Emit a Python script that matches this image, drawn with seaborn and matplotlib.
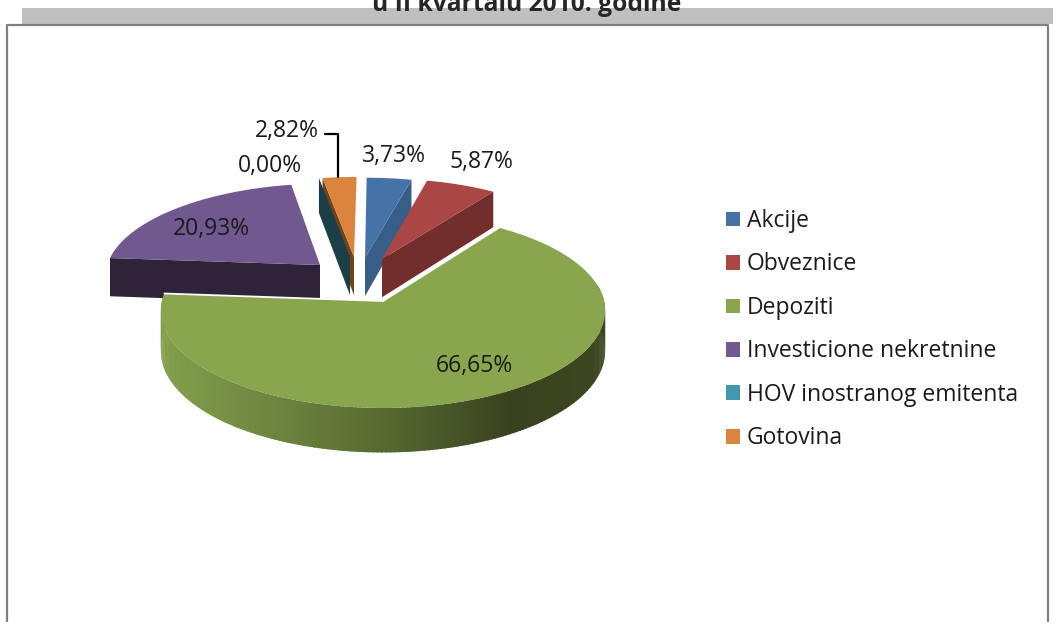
import numpy as np
import seaborn as sns
import matplotlib
matplotlib.use("Agg")
import matplotlib.pyplot as plt
from matplotlib.patches import Patch

# data
categories = ["Akcije", "Obveznice", "Depoziti", "Investicione nekretnine",
              "HOV inostranog emitenta", "Gotovina"]
values = [3.73, 5.87, 66.65, 20.93, 0.00, 2.82]
value_labels = ["3,73%", "5,87%", "66,65%", "20,93%", "0,00%", "2,82%"]
title_text = "u II kvartalu 2010. godine"

# styles
top_colors = ["#4572A7", "#AA4643", "#89A54E", "#71588F", "#4198AF", "#DB843D"]
side_colors = ["#375E87", "#722E2D", "#89A54E", "#2E2339", "#1B3F49", "#70431A"]
side_stops = ["#82A04C", "#6E8540", "#566A30", "#38421E", "#3C4720"]

# layout (pixels of the 1053x622 picture)
W, H = 1053, 622
CX, CY, RX, RY, K, DEPTH = 384, 301, 221, 96.3, 0.10, 40
apex_px = [(365, 258), (382, 259), (383, 301), (320, 265), (350, 257), (354, 257)]
label_px = [(394, 156), (481, 162), (474, 366), (211, 229), (270, 166), (287, 131)]

sns.set_theme(style="white")
plt.rcParams["font.family"] = ["Open Sans", "DejaVu Sans"]

fig = plt.figure(figsize=(W / 100, H / 100), dpi=100)
ax = fig.add_axes([0, 0, 1, 1])
ax.set_xlim(0, W)
ax.set_ylim(H, 0)
ax.axis("off")


def world_offset(px, py):
    dy = CY - py
    b = dy / (RY - K * dy)
    a = (px - CX) * (1 + K * b) / RX
    return a, b


def project(a, b, low=False):
    s = 1 + K * b
    x = CX + RX * a / s
    y = CY - RY * b / s
    if low:
        y = y + DEPTH / s
    return x, y


def arc(off, t0, t1, low=False, n=120):
    t = np.radians(np.linspace(t0, t1, n))
    return project(off[0] + np.sin(t), off[1] + np.cos(t), low)


def radial_face(off, t, color, z):
    tr = np.radians(t)
    a = np.array([off[0], off[0] + np.sin(tr)])
    b = np.array([off[1], off[1] + np.cos(tr)])
    x0, y0 = project(a, b)
    x1, y1 = project(a, b, True)
    ax.fill(np.r_[x0, x1[::-1]], np.r_[y0, y1[::-1]], color=color, lw=0, zorder=z)


edges = np.r_[0, np.cumsum(values)] * 3.6
offsets = [world_offset(*p) for p in apex_px]

# purple, orange, teal, blue, red, green: back to front
radial_face(offsets[3], edges[3], side_colors[3], 2)
radial_face(offsets[5], edges[5], side_colors[5], 3)
radial_face(offsets[4], edges[4], side_colors[4], 5)
radial_face(offsets[0], edges[1], side_colors[0], 3)
radial_face(offsets[1], edges[2], side_colors[1], 3)

for i in [0, 1, 3, 5]:
    x, y = arc(offsets[i], edges[i], edges[i + 1])
    ax0, ay0 = project(offsets[i][0], offsets[i][1])
    ax.fill(np.r_[ax0, x], np.r_[ay0, y], color=top_colors[i], lw=0, zorder=4)

# green outer wall, shaded from left to right
rgb = np.array([matplotlib.colors.to_rgb(c) for c in side_stops])
stop_x = np.array([0.0, 0.25, 0.5, 0.78, 1.0])
ts = np.arange(80, edges[3] + 1, 1.0)
off = offsets[2]
for t0, t1 in zip(ts[:-1], ts[1:]):
    x0, y0 = arc(off, t0, t1 + 0.5, n=3)
    x1, y1 = arc(off, t0, t1 + 0.5, low=True, n=3)
    f = (x0.mean() - 161) / (607 - 161)
    col = [np.interp(f, stop_x, rgb[:, c]) for c in range(3)]
    ax.fill(np.r_[x0, x1[::-1]], np.r_[y0, y1[::-1]], color=col, lw=0, zorder=6)

x, y = arc(off, edges[2], edges[3], n=300)
a0, b0 = project(off[0], off[1])
ax.fill(np.r_[a0, x], np.r_[b0, y], facecolor=top_colors[2], lw=0, zorder=7)
ax.plot([x[0], a0, x[-1]], [y[0], b0, y[-1]], color="white", lw=1.3, zorder=7,
        solid_joinstyle="miter")

# data labels
for (lx, ly), txt in zip(label_px, value_labels):
    ax.text(lx, ly, txt, ha="center", va="center", fontsize=16.5, color="#1a1a1a", zorder=9)
ax.plot([325, 338, 338], [134, 134, 177], color="black", lw=1.6, zorder=9)

# frame, band and clipped title
ax.fill_between([22, W], 8, 24, color="#BFBFBF", lw=0, zorder=0)
ax.plot([7, 7, 1048, 1048], [H, 25, 25, H], color="#808080", lw=1.6, zorder=1)
ax.text(527, 11, title_text, ha="center", va="baseline", fontsize=17.7,
        fontweight="bold", color="#262626", family="Open Sans", zorder=2)

# legend
handles = [Patch(facecolor=c, edgecolor="none") for c in top_colors]
leg = ax.legend(handles, categories, loc="upper left", frameon=False,
                bbox_to_anchor=(726 / W, 1 - 209 / H), bbox_transform=ax.transAxes,
                fontsize=16.5, handlelength=0.61, handleheight=0.61, handletextpad=0.3,
                labelspacing=0.85, borderpad=0, borderaxespad=0, labelcolor="#1a1a1a")

fig.savefig("out.png", dpi=100, facecolor="white")
